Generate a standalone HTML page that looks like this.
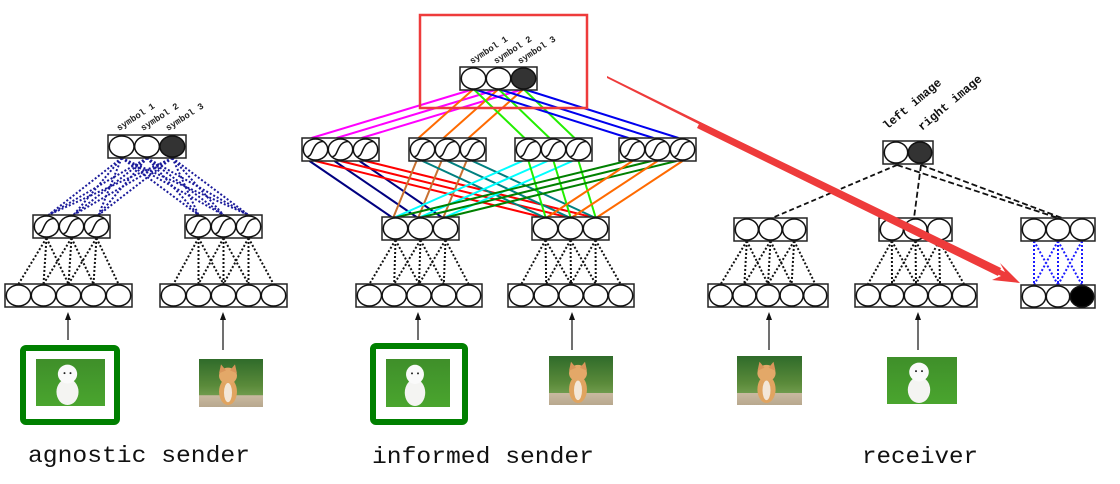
<!DOCTYPE html>
<html><head><meta charset="utf-8"><style>
html,body{margin:0;padding:0;background:#fff;width:1120px;height:484px;overflow:hidden}
svg{display:block}
.lbl{font-family:"Liberation Mono",monospace;font-size:23px;fill:#111}
.sym{font-family:"Liberation Mono",monospace;font-size:9px;font-weight:bold;fill:#222}
.img{font-family:"Liberation Mono",monospace;font-size:12px;font-weight:bold;fill:#111}
</style></head><body>
<svg id="s" width="1120" height="484" viewBox="0 0 1120 484" xmlns="http://www.w3.org/2000/svg">
<defs>
<linearGradient id="grass" x1="0" y1="0" x2="0" y2="1"><stop offset="0" stop-color="#3f8f2a"/><stop offset="1" stop-color="#4aa52e"/></linearGradient>
<linearGradient id="grass2" x1="0" y1="0" x2="0" y2="1"><stop offset="0" stop-color="#2f6b2a"/><stop offset="0.55" stop-color="#5a8a3a"/><stop offset="0.75" stop-color="#6f9a4c"/><stop offset="0.76" stop-color="#c9b9a0"/><stop offset="1" stop-color="#b8a88e"/></linearGradient>
</defs>
<g id="lines"></g>
<g id="nodes"></g>
<text class="lbl" x="28" y="462" textLength="222" lengthAdjust="spacingAndGlyphs">agnostic sender</text>
<text class="lbl" x="372" y="463" textLength="222" lengthAdjust="spacingAndGlyphs">informed sender</text>
<text class="lbl" x="862" y="463" textLength="116" lengthAdjust="spacingAndGlyphs">receiver</text>
</svg>
<script>
const NS="http://www.w3.org/2000/svg";
const L=document.getElementById('lines'),N=document.getElementById('nodes'),S=document.getElementById('s');
function el(p,t,a){const e=document.createElementNS(NS,t);for(const k in a)e.setAttribute(k,a[k]);p.appendChild(e);return e;}
function line(x1,y1,x2,y2,c,w,d){el(L,'line',{x1,y1,x2,y2,stroke:c,'stroke-width':w||2,'stroke-dasharray':d||''});}
function box(x,y,w,n,opts){opts=opts||{};const h=23;el(N,'rect',{x,y,width:w,height:h,fill:'#fff',stroke:'#222','stroke-width':1.5});
 const cw=(w-2)/n,c=[];for(let i=0;i<n;i++){const cx=x+1+cw*(i+.5),cy=y+h/2;c.push(cx);
 const f=(opts.fill&&opts.fill[i])||'#fff';el(N,'ellipse',{cx,cy,rx:cw/2-0.3,ry:h/2-1,fill:f,stroke:'#111','stroke-width':1.5});
 if(opts.sig)el(N,'path',{d:`M${cx-8} ${cy+7} C${cx-2} ${cy+7} ${cx-4} ${cy-8} ${cx+8} ${cy-8}`,fill:'none',stroke:'#111','stroke-width':1.5});}
 return {c,top:y,bot:y+h};}
function dotted(h,inp){for(let i=0;i<3;i++)for(let j=i;j<i+3;j++)line(h.c[i],h.bot,inp.c[j],inp.top,'#111',2,'2,2');}
function arrow(x,y1,y2){line(x,y1,x,y2+6,'#111',1.2);el(N,'path',{d:`M${x} ${y2} l-3 8 l6 0z`,fill:'#111'});}
function pic(x,y,w,h,dog){const g=el(N,'g',{});el(g,'rect',{x,y,width:w,height:h,fill:dog?'url(#grass)':'url(#grass2)'});
 const cx=x+w/2-3;
 if(dog){el(g,'ellipse',{cx,cy:y+h*0.7,rx:w*0.16,ry:h*0.28,fill:'#f4f4f2'});el(g,'ellipse',{cx,cy:y+h*0.32,rx:w*0.14,ry:h*0.2,fill:'#fafafa'});el(g,'circle',{cx:cx-3,cy:y+h*0.3,r:1,fill:'#222'});el(g,'circle',{cx:cx+3,cy:y+h*0.3,r:1,fill:'#222'});}
 else{el(g,'ellipse',{cx,cy:y+h*0.68,rx:w*0.14,ry:h*0.28,fill:'#e0a460'});el(g,'ellipse',{cx,cy:y+h*0.35,rx:w*0.14,ry:h*0.17,fill:'#e3a868'});el(g,'path',{d:`M${cx-9} ${y+h*0.3} l2 -9 l5 6z M${cx+9} ${y+h*0.3} l-2 -9 l-5 6z`,fill:'#d9955a'});el(g,'ellipse',{cx,cy:y+h*0.7,rx:4,ry:h*0.2,fill:'#f3e7d8'});}}
function frame(x,y,w,h){el(N,'rect',{x,y,width:w,height:h,rx:3,fill:'none',stroke:'#008000','stroke-width':6});}
function rtext(x,y,t,cls,ang){el(N,'text',{x,y,class:cls,transform:`rotate(${ang} ${x} ${y})`}).textContent=t;}

// agnostic sender
const aS=box(108,135,78,3,{fill:['#fff','#fff','#333']});
const aH1=box(33,215,77,3,{sig:1}),aH2=box(185,215,77,3,{sig:1});
const aI1=box(5,284,127,5),aI2=box(160,284,127,5);
for(const h of [aH1,aH2])for(let i=0;i<3;i++)for(let j=0;j<3;j++)line(aS.c[j],aS.bot,h.c[i]+(h===aH1?2:0),h.top,'#1a1a9a',2,'2,2');
dotted(aH1,aI1);dotted(aH2,aI2);
rtext(119,131,'symbol 1','sym',-33);rtext(143,131,'symbol 2','sym',-33);rtext(168,131,'symbol 3','sym',-33);
arrow(68,340,312);arrow(223,350,312);
frame(23,348,94,74);pic(36,359,69,47,1);pic(199,359,64,48,0);

// informed sender
const iS=box(460,67,77,3,{fill:['#fff','#fff','#333']});
const b1=[box(302,138,77,3,{sig:1}),box(409,138,77,3,{sig:1}),box(515,138,77,3,{sig:1}),box(619,138,77,3,{sig:1})];
const b2=[box(382,217,77,3),box(532,217,77,3)];
const iI1=box(356,284,126,5),iI2=box(508,284,126,5);
const topc=['#ff00ff','#ff6a00','#22ee00','#0000ee'];
b1.forEach((b,k)=>{for(let i=0;i<3;i++)line(iS.c[i]-3+k*2,iS.bot,b.c[i]-4,b.top,topc[k],2);});
const mid=[['#000080','#ff0000'],['#c87030','#008080'],['#00ffff','#22ee00'],['#008000','#ff6a00']];
b1.forEach((b,k)=>{for(let t=0;t<2;t++)for(let i=0;i<3;i++)line(b.c[i]-6+t*6,b.bot,b2[t].c[i]-4+k*2,b2[t].top,mid[k][t],2);});
dotted(b2[0],iI1);dotted(b2[1],iI2);
rtext(472,64,'symbol 1','sym',-33);rtext(496,64,'symbol 2','sym',-33);rtext(520,64,'symbol 3','sym',-33);
arrow(418,340,312);arrow(572,350,312);
frame(373,346,92,76);pic(386,359,64,48,1);pic(549,356,64,49,0);
el(N,'rect',{x:420,y:15,width:167,height:93,fill:'none',stroke:'#ee3b3b','stroke-width':2.5});

// receiver
const rO=box(883,141,50,2,{fill:['#fff','#333']});
const rH1=box(734,218,73,3),rH2=box(879,218,73,3),rH3=box(1021,218,74,3);
const rI1=box(708,284,120,5),rI2=box(855,284,122,5),rOut=box(1021,285,74,3,{fill:['#fff','#fff','#000']});
line(897,165,772,218,'#111',1.8,'5,3');line(921,165,914,218,'#111',1.8,'6,3');
line(897,165,1058,218,'#111',1.8,'6,3');line(921,165,1062,218,'#111',1.8,'6,3');
dotted(rH1,rI1);dotted(rH2,rI2);
for(let i=0;i<3;i++)for(let j=0;j<3;j++)if(Math.abs(i-j)<=1)line(rH3.c[i],rH3.bot,rOut.c[j],rOut.top,'#1a1aff',2,'2,2');
rtext(887,130,'left image','img',-40);rtext(922,131,'right image','img',-40);
arrow(769,350,312);arrow(918,350,312);
pic(737,356,65,49,0);pic(887,357,70,47,1);

// red arrow
el(N,'path',{d:'M607 76 L1005 272 L1000 263 L1020 283 L992 280 L1001 276 L607 78 Z',fill:'#ee3b3b'});
el(N,'polygon',{points:'700,122 1001,268 998,276 697,128',fill:'#ee3b3b'});
</script>
</body></html>
